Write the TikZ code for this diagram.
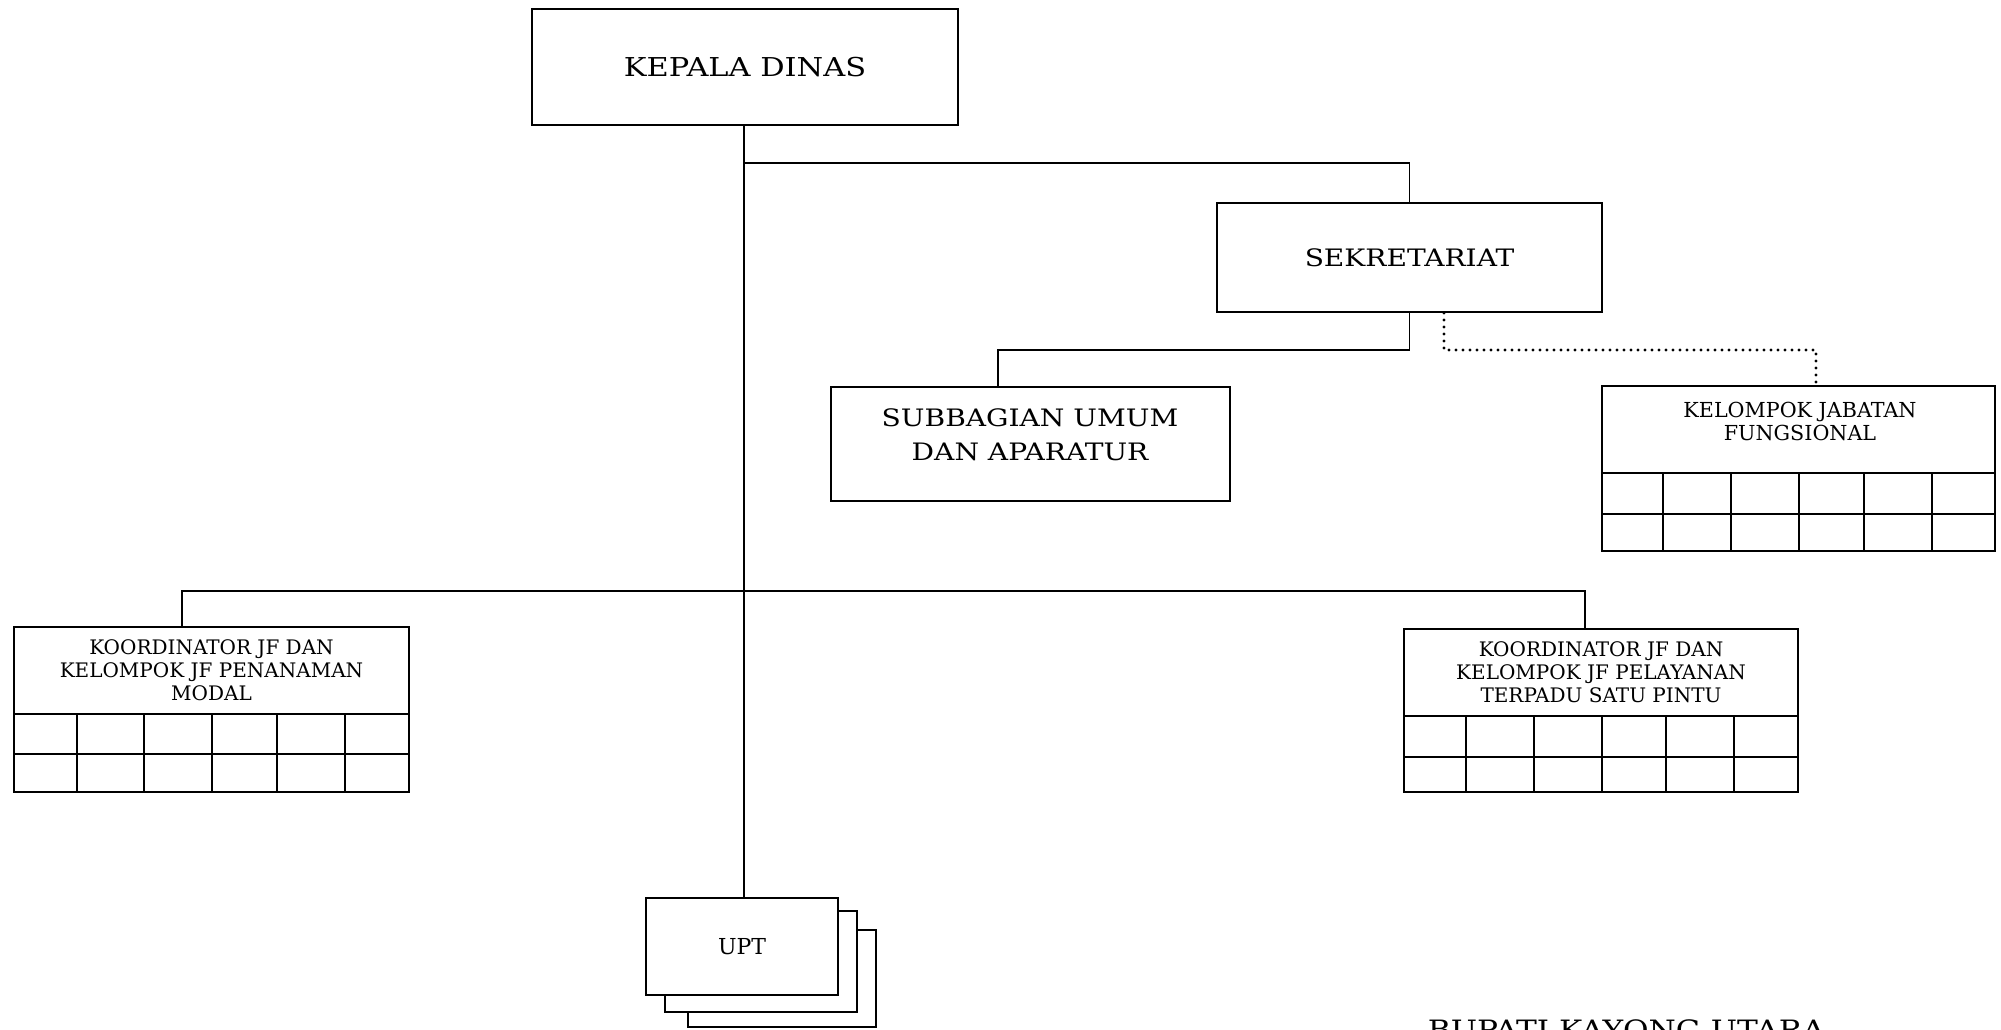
\documentclass[tikz,border=0pt]{standalone}
\usepackage{fontspec}
\setmainfont{DejaVu Serif}
\newfontfamily\widefont[FakeStretch=1.17]{DejaVu Serif}

\tikzset{every picture/.style={line width=1.4pt}}
\tikzset{
  unitbox/.style={draw, line width=1.4pt, fill=white, inner sep=0pt},
  bigtxt/.style={font=\widefont\fontsize{18}{25.5}\selectfont, align=center, inner sep=0pt},
  smalltxt/.style={font=\fontsize{15}{17.25}\selectfont, align=center, inner sep=0pt},
  fungsi/.style={line width=2.4pt, line cap=round, dash pattern=on 0pt off 5.25pt}
}

\begin{document}
\begin{tikzpicture}[x=0.75pt,y=0.75pt,yscale=-1,xscale=1]
\useasboundingbox (0,0) rectangle (2001,1029);

%Shape: Rectangle [kepala dinas]
\node[unitbox, bigtxt, font=\widefont\fontsize{19.5}{25.5}\selectfont, minimum width=426*0.75pt, minimum height=116*0.75pt] (kadis) at (745,67) {KEPALA DINAS};
%Shape: Rectangle [sekretariat]
\node[unitbox, bigtxt, minimum width=385*0.75pt, minimum height=109*0.75pt] (sek) at (1409.5,257.5) {SEKRETARIAT};
%Shape: Rectangle [subbagian]
\node[unitbox, minimum width=399*0.75pt, minimum height=114*0.75pt] (sub) at (1030.5,444) {};
% Text Node
\node[bigtxt] (subtxt) at (1030,435) {SUBBAGIAN UMUM\\DAN APARATUR};

%Shape: Rectangle [kelompok jabatan fungsional]
\node[unitbox, minimum width=393*0.75pt, minimum height=87*0.75pt] (kjf) at (1798.5,429.5) {};
% Text Node
\node[smalltxt, font=\fontsize{15.5}{17.25}\selectfont] (kjftxt) at (1800,421) {KELOMPOK JABATAN\\FUNGSIONAL};
\draw (1602,473) rectangle (1995,551);
\draw (1602,514) -- (1995,514);
\foreach \x in {1663,1731,1799,1864,1932} \draw (\x,473) -- (\x,551);

%Shape: Rectangle [koordinator penanaman modal]
\node[unitbox, smalltxt, minimum width=395*0.75pt, minimum height=87*0.75pt] (pm) at (211.5,670.5) {KOORDINATOR JF DAN\\KELOMPOK JF PENANAMAN\\MODAL};
\draw (14,714) rectangle (409,792);
\draw (14,754) -- (409,754);
\foreach \x in {77,144,212,277,345} \draw (\x,714) -- (\x,792);

%Shape: Rectangle [koordinator ptsp]
\node[unitbox, smalltxt, minimum width=394*0.75pt, minimum height=87*0.75pt] (ptsp) at (1601,672.5) {KOORDINATOR JF DAN\\KELOMPOK JF PELAYANAN\\TERPADU SATU PINTU};
\draw (1404,716) rectangle (1798,792);
\draw (1404,757) -- (1798,757);
\foreach \x in {1466,1534,1602,1666,1734} \draw (\x,716) -- (\x,792);

%Shape: Rectangle [upt, stacked]
\node[unitbox, minimum width=188*0.75pt, minimum height=97*0.75pt] (upt3) at (782,978.5) {};
\node[unitbox, minimum width=192*0.75pt, minimum height=101*0.75pt] (upt2) at (761,961.5) {};
\node[unitbox, smalltxt, font=\fontsize{16.5}{19}\selectfont, minimum width=192*0.75pt, minimum height=97*0.75pt] (upt) at (742,946.5) {UPT};

%Straight Lines [garis komando]
\coordinate (j1) at (744,163);
\coordinate (j2) at (998,350);
\coordinate (j3) at (1444,350);
\coordinate (j4) at (182,591);
\coordinate (j5) at (1585,591);
\draw (kadis.south -| j1) -- (j1 |- upt.north);
\draw (j1) -| (sek.north);
\draw (sek.south) |- (j2) -- (j2 |- sub.north);
\draw (j4 |- pm.north) -- (j4) -- (j5) -- (j5 |- ptsp.north);
%Straight Lines [garis koordinasi]
\draw[fungsi] (j3 |- sek.south) -- (j3) -| (kjf.north -| 1816,0);

% Text Node
\node[font=\widefont\fontsize{20}{24}\selectfont, inner sep=0pt, anchor=north west] (bupati) at (1427,1019) {BUPATI KAYONG UTARA};

\end{tikzpicture}
\end{document}
